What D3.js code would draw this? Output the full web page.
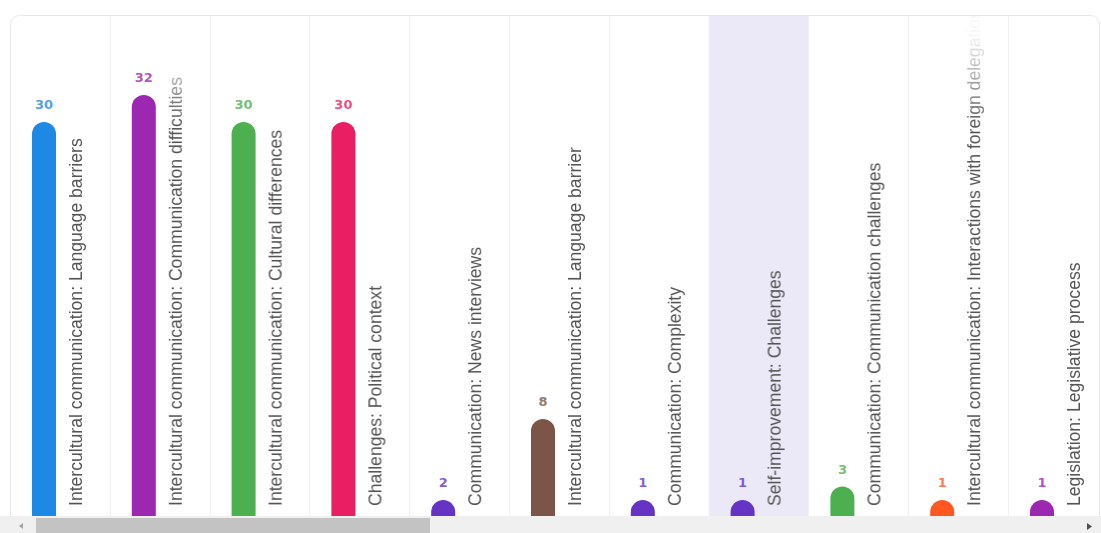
<!DOCTYPE html>
<html>
<head>
<meta charset="utf-8">
<script src="https://cdn.jsdelivr.net/npm/d3@7"></script>
<style>
  html, body { margin: 0; padding: 0; background: #ffffff; }
  svg { display: block; }
</style>
</head>
<body>
<svg id="chart" width="1101" height="533"></svg>
<script>
// Theme counts, one column per theme
const categories = [
  "Intercultural communication: Language barriers",
  "Intercultural communication: Communication difficulties",
  "Intercultural communication: Cultural differences",
  "Challenges: Political context",
  "Communication: News interviews",
  "Intercultural communication: Language barrier",
  "Communication: Complexity",
  "Self-improvement: Challenges",
  "Communication: Communication challenges",
  "Intercultural communication: Interactions with foreign delegations",
  "Legislation: Legislative process"
];
const counts = [30, 32, 30, 30, 2, 8, 1, 1, 3, 1, 1];
const barColors = [
  "#1e88e5", "#9c27b0", "#4caf50", "#e91e63", "#6633c4", "#7a5548",
  "#6633c4", "#6633c4", "#4caf50", "#ff5722", "#9c27b0"
];
const highlighted = "Self-improvement: Challenges";

const W = 1101, H = 533;
const cardLeft = 10, cardTop = 15, cardRight = 1099;
const baseY = 527, plotBottom = 516;
const colStep = 99.8;
const barW = 24, minBarH = 27;

const svg = d3.select("#chart");
const defs = svg.append("defs");

defs.append("clipPath").attr("id", "plotClip")
  .append("rect")
  .attr("x", cardLeft).attr("y", cardTop)
  .attr("width", cardRight - cardLeft).attr("height", plotBottom - cardTop)
  .attr("rx", 9);

// fade long labels out toward the top of the card
const grad = defs.append("linearGradient")
  .attr("id", "labelFade")
  .attr("gradientUnits", "userSpaceOnUse")
  .attr("x1", 0).attr("y1", 35).attr("x2", 0).attr("y2", 125);
grad.append("stop").attr("offset", 0).attr("stop-color", "#fff").attr("stop-opacity", 0.05);
grad.append("stop").attr("offset", 1).attr("stop-color", "#fff").attr("stop-opacity", 1);
defs.append("mask").attr("id", "labelMask")
  .attr("maskUnits", "userSpaceOnUse")
  .attr("x", 0).attr("y", 0).attr("width", W).attr("height", H)
  .append("rect")
  .attr("x", 0).attr("y", 0).attr("width", W).attr("height", H)
  .attr("fill", "url(#labelFade)");

const x = d3.scaleBand()
  .domain(categories)
  .range([cardLeft, cardLeft + colStep * categories.length])
  .paddingInner(0).paddingOuter(0);

const y = d3.scaleLinear()
  .domain([0, d3.max(counts)])
  .range([baseY, baseY - 13.5 * d3.max(counts)]);

const color = d3.scaleOrdinal().domain(categories).range(barColors);

const data = categories.map((c, i) => ({ name: c, value: counts[i] }));

const plot = svg.append("g").attr("clip-path", "url(#plotClip)");

// column backgrounds and separators
const cols = plot.selectAll("g.col").data(data).join("g").attr("class", "col");
cols.append("rect")
  .attr("x", d => x(d.name))
  .attr("y", cardTop + 1)
  .attr("width", x.bandwidth())
  .attr("height", plotBottom - cardTop)
  .attr("fill", d => d.name === highlighted ? "#ebe9f7" : "#ffffff");
cols.filter((d, i) => i > 0).append("line")
  .attr("x1", d => Math.round(x(d.name)) + 0.5)
  .attr("x2", d => Math.round(x(d.name)) + 0.5)
  .attr("y1", cardTop + 1).attr("y2", plotBottom)
  .attr("stroke", "#f1f1f1");

const barX = d => x(d.name) + 34 - barW / 2;
const barTop = d => Math.min(y(d.value), baseY - minBarH);

// bars with rounded caps; the square foot sits below the scroll bar
plot.selectAll("rect.bar").data(data).join("rect")
  .attr("class", "bar")
  .attr("x", barX)
  .attr("y", barTop)
  .attr("width", barW)
  .attr("height", d => baseY - barTop(d) + 14)
  .attr("rx", barW / 2)
  .attr("fill", d => color(d.name));

// value labels
plot.selectAll("text.val").data(data).join("text")
  .attr("class", "val")
  .attr("x", d => x(d.name) + 34)
  .attr("y", d => barTop(d) - 13)
  .attr("text-anchor", "middle")
  .attr("font-family", "DejaVu Sans, sans-serif")
  .attr("font-weight", "bold")
  .attr("font-size", 13)
  .attr("fill", d => color(d.name))
  .attr("fill-opacity", 0.8)
  .text(d => d.value);

// rotated category labels
const labels = plot.append("g").attr("mask", "url(#labelMask)");
labels.selectAll("text.cat").data(data).join("text")
  .attr("class", "cat")
  .attr("transform", d => `translate(${x(d.name) + 72},506) rotate(-90)`)
  .attr("font-family", "Liberation Sans, Arial, sans-serif")
  .attr("font-size", 17.6)
  .attr("fill", "#555555")
  .text(d => d.name);

// card outline drawn over the columns
svg.append("rect")
  .attr("x", cardLeft + 0.5).attr("y", cardTop + 0.5)
  .attr("width", cardRight - cardLeft).attr("height", H + 20)
  .attr("rx", 9)
  .attr("fill", "none")
  .attr("stroke", "#e8e8e8");

// horizontal scroll bar
const sb = svg.append("g");
sb.append("rect").attr("x", 0).attr("y", plotBottom).attr("width", W).attr("height", H - plotBottom)
  .attr("fill", "#f0f0f0");
sb.append("rect").attr("x", 36).attr("y", 518).attr("width", 394).attr("height", 15)
  .attr("fill", "#c3c3c3");
sb.append("path").attr("d", "M19,526 L23,523 L23,529 Z").attr("fill", "#a3a3a3");
sb.append("path").attr("d", "M1087,523 L1092,526.5 L1087,530 Z").attr("fill", "#505050");
</script>
</body>
</html>
